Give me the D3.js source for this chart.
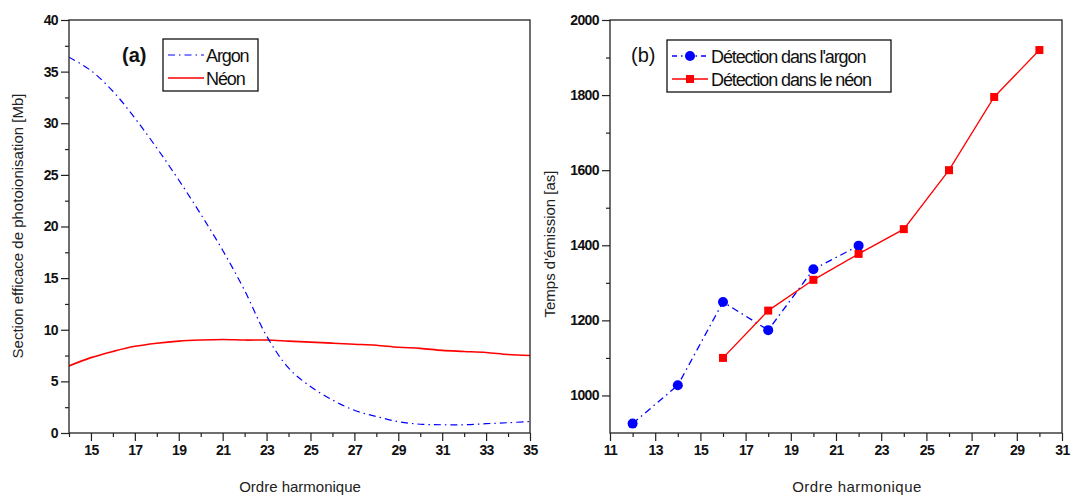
<!DOCTYPE html>
<html><head><meta charset="utf-8">
<script src="https://cdn.jsdelivr.net/npm/d3@7"></script>
<style>
html,body{margin:0;padding:0;background:#fff;}
svg{display:block;font-family:"Liberation Sans",Arial,sans-serif;}
</style></head>
<body>
<svg id="c" width="1081" height="496"></svg>
<script>
// Panel (a): photoionisation cross section
const harmonicsA = [14,15,16,17,18,19,20,21,22,23,24,25,26,27,28,29,30,31,32,33,34,35];
const argonSigma = [36.4,35.1,33.1,30.5,27.6,24.5,21.2,17.7,13.8,9.4,6.3,4.5,3.2,2.2,1.6,1.1,0.85,0.8,0.8,0.9,1.0,1.1];
const neonSigma  = [6.5,7.3,7.9,8.4,8.7,8.9,9.0,9.05,9.0,9.0,8.9,8.8,8.7,8.6,8.5,8.3,8.2,8.0,7.9,7.8,7.6,7.5];
// Panel (b): emission time
const harmonicsArgonB = [12,14,16,18,20,22];
const argonTime = [925,1027,1249,1174,1336,1399];
const harmonicsNeonB = [16,18,20,22,24,26,28,30];
const neonTime = [1100,1226,1308,1377,1443,1600,1795,1920];
// Tick labels
const xTicksA = [15,17,19,21,23,25,27,29,31,33,35];
const yTicksA = [0,5,10,15,20,25,30,35,40];
const xTicksB = [11,13,15,17,19,21,23,25,27,29,31];
const yTicksB = [1000,1200,1400,1600,1800,2000];

const svg = d3.select("#c");
const BLUE = "#0000ff", RED = "#ff0000", AX = "#222";
const dashDot = "7,4,1.5,4";

function frame(g, x, y, xt, xMinor, yt, yMinor, yFmt){
  const [x0,x1] = x.range(), [y0,y1] = y.range();
  const xa = g.append("g").attr("transform",`translate(0,${y0})`)
    .call(d3.axisBottom(x).tickValues(xMinor).tickSize(4).tickFormat(""));
  xa.select(".domain").remove();
  const xb = g.append("g").attr("transform",`translate(0,${y0})`)
    .call(d3.axisBottom(x).tickValues(xt).tickSize(8).tickPadding(4).tickFormat(d3.format("d")));
  xb.select(".domain").remove();
  const ya = g.append("g").attr("transform",`translate(${x0},0)`)
    .call(d3.axisLeft(y).tickValues(yMinor).tickSize(4).tickFormat(""));
  ya.select(".domain").remove();
  const yb = g.append("g").attr("transform",`translate(${x0},0)`)
    .call(d3.axisLeft(y).tickValues(yt).tickSize(8).tickPadding(3).tickFormat(yFmt));
  yb.select(".domain").remove();
  g.selectAll(".tick line").attr("stroke",AX).attr("stroke-width",1.2);
  g.selectAll(".tick text").attr("fill","#111").attr("font-size",14).attr("font-weight","bold")
    .attr("letter-spacing","-0.6px").attr("font-family","'Liberation Sans',Arial,sans-serif");
  g.append("rect").attr("x",x0).attr("y",y1).attr("width",x1-x0).attr("height",y0-y1)
    .attr("fill","none").attr("stroke",AX).attr("stroke-width",1.3);
}

// ---------- Panel (a)
const gA = svg.append("g");
const xA = d3.scaleLinear().domain([14,35]).range([69,530]);
const yA = d3.scaleLinear().domain([0,40]).range([433,20]);
svg.append("clipPath").attr("id","clipA").append("rect")
  .attr("x",69).attr("y",20).attr("width",461).attr("height",413);
const lineA = (vals) => d3.line().x((d,i)=>xA(harmonicsA[i])).y(d=>yA(d)).curve(d3.curveCatmullRom.alpha(0.5))(vals);
gA.append("path").attr("d",lineA(neonSigma)).attr("fill","none").attr("stroke",RED).attr("stroke-width",1.6).attr("clip-path","url(#clipA)");
gA.append("path").attr("d",lineA(argonSigma)).attr("fill","none").attr("stroke",BLUE).attr("stroke-width",1.2).attr("stroke-dasharray",dashDot).attr("clip-path","url(#clipA)");
frame(gA, xA, yA, xTicksA, d3.range(14,36,1).filter(v=>!xTicksA.includes(v)), yTicksA,
  d3.range(2.5,40,5), d3.format("d"));

// legend a
gA.append("text").attr("x",122).attr("y",62).attr("font-size",20).attr("font-weight","bold").attr("fill","#111").text("(a)");
gA.append("rect").attr("x",163).attr("y",39).attr("width",95).attr("height",52).attr("fill","#fff").attr("stroke","#111").attr("stroke-width",1.3);
gA.append("line").attr("x1",168).attr("x2",204).attr("y1",55).attr("y2",55).attr("stroke",BLUE).attr("stroke-width",1.2).attr("stroke-dasharray",dashDot);
gA.append("line").attr("x1",168).attr("x2",204).attr("y1",78).attr("y2",78).attr("stroke",RED).attr("stroke-width",1.6);
gA.append("text").attr("x",206).attr("y",62).attr("font-size",18).attr("letter-spacing","-1.1px").attr("fill","#111").text("Argon");
gA.append("text").attr("x",206).attr("y",85).attr("font-size",18).attr("letter-spacing","-1.1px").attr("fill","#111").text("Néon");

gA.append("text").attr("x",300).attr("y",492).attr("text-anchor","middle").attr("font-size",15).attr("fill","#222").text("Ordre harmonique");
gA.append("text").attr("transform","translate(23,226) rotate(-90)").attr("text-anchor","middle").attr("font-size",15).attr("fill","#222").text("Section efficace de photoionisation [Mb]");

// ---------- Panel (b)
const gB = svg.append("g");
const xB = d3.scaleLinear().domain([11,31]).range([610,1062]);
const yB = d3.scaleLinear().domain([900,2000]).range([433,20]);
const lineNeon = d3.line().x((d,i)=>xB(harmonicsNeonB[i])).y(d=>yB(d));
const lineArg = d3.line().x((d,i)=>xB(harmonicsArgonB[i])).y(d=>yB(d));
gB.append("path").attr("d",lineArg(argonTime)).attr("fill","none").attr("stroke",BLUE).attr("stroke-width",1.3).attr("stroke-dasharray",dashDot);
gB.append("path").attr("d",lineNeon(neonTime)).attr("fill","none").attr("stroke",RED).attr("stroke-width",1.3);
gB.selectAll("circle.ar").data(argonTime).enter().append("circle").attr("class","ar")
  .attr("cx",(d,i)=>xB(harmonicsArgonB[i])).attr("cy",d=>yB(d)).attr("r",5).attr("fill",BLUE);
gB.selectAll("rect.ne").data(neonTime).enter().append("rect").attr("class","ne")
  .attr("x",(d,i)=>xB(harmonicsNeonB[i])-4).attr("y",d=>yB(d)-4).attr("width",8).attr("height",8).attr("fill",RED);
frame(gB, xB, yB, xTicksB, d3.range(12,31,2), yTicksB, d3.range(1100,2000,200), d3.format("d"));

gB.append("text").attr("x",631).attr("y",62).attr("font-size",20).attr("fill","#111").text("(b)");
gB.append("rect").attr("x",667).attr("y",40).attr("width",224).attr("height",52).attr("fill","#fff").attr("stroke","#111").attr("stroke-width",1.3);
gB.append("line").attr("x1",672).attr("x2",708).attr("y1",56).attr("y2",56).attr("stroke",BLUE).attr("stroke-width",1.3).attr("stroke-dasharray","5,4,1.5,4");
gB.append("circle").attr("cx",690).attr("cy",56).attr("r",5).attr("fill",BLUE);
gB.append("line").attr("x1",672).attr("x2",708).attr("y1",79).attr("y2",79).attr("stroke",RED).attr("stroke-width",1.3);
gB.append("rect").attr("x",686).attr("y",75).attr("width",8).attr("height",8).attr("fill",RED);
gB.append("text").attr("x",711).attr("y",63).attr("font-size",18).attr("letter-spacing","-1.1px").attr("fill","#111").text("Détection dans l'argon");
gB.append("text").attr("x",711).attr("y",86).attr("font-size",18).attr("letter-spacing","-1.1px").attr("fill","#111").text("Détection dans le néon");

gB.append("text").attr("x",857).attr("y",492).attr("text-anchor","middle").attr("font-size",15).attr("letter-spacing","0.5px").attr("fill","#222").text("Ordre harmonique");
gB.append("text").attr("transform","translate(555,244) rotate(-90)").attr("text-anchor","middle").attr("font-size",15).attr("fill","#222").text("Temps d'émission [as]");
</script>
</body></html>
